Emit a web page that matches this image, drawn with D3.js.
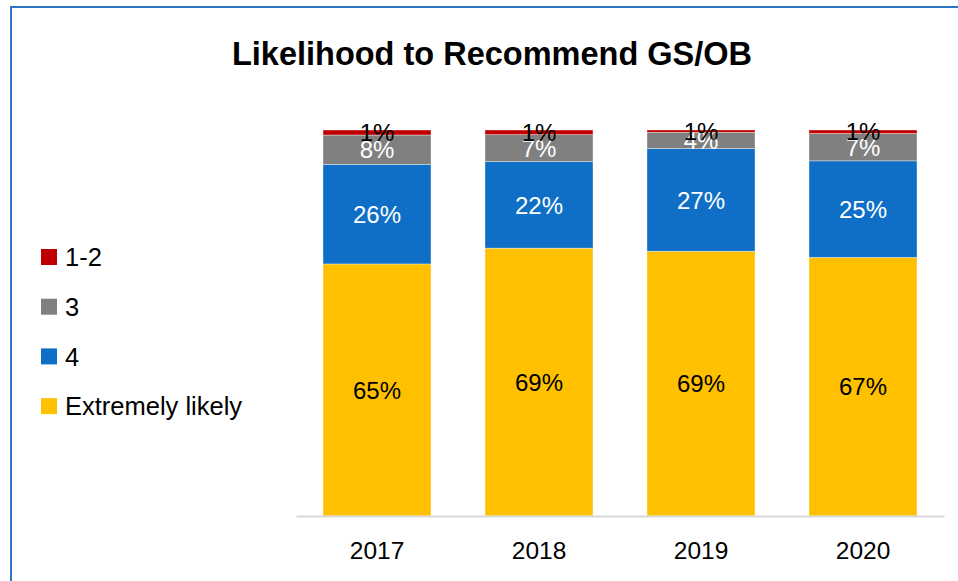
<!DOCTYPE html>
<html>
<head>
<meta charset="utf-8">
<script src="https://cdn.jsdelivr.net/npm/d3@7"></script>
<style>
  body { margin: 0; background: #fff; }
  text { font-family: "Liberation Sans", Arial, sans-serif; }
</style>
</head>
<body>
<div id="chart"></div>
<script>
//chart data
let years = ["2017", "2018", "2019", "2020"];
let seriesNames = ["Extremely likely", "4", "3", "1-2"];
let extremelyLikely = [65.3, 69.4, 68.6, 67.0];
let four = [25.8, 22.4, 26.6, 25.0];
let three = [7.6, 7.0, 4.2, 7.1];
let oneTwo = [1.3, 1.2, 0.6, 0.9];
let legendOrder = ["1-2", "3", "4", "Extremely likely"];

let width = 958,
    height = 581;
let colors = {"Extremely likely": "#FFC000", "4": "#0F6FC6", "3": "#808080", "1-2": "#C00000"};
let labelColors = {"Extremely likely": "#000", "4": "#fff", "3": "#fff", "1-2": "#000"};

//build table for stacking
let table = years.map((y, i) => ({
    year: y,
    "Extremely likely": extremelyLikely[i],
    "4": four[i],
    "3": three[i],
    "1-2": oneTwo[i]
}));
let stacked = d3.stack().keys(seriesNames)(table);

let svg = d3.select("#chart")
    .append("svg")
    .attr("width", width)
    .attr("height", height);

//blue frame around chart
svg.append("rect")
    .attr("x", 11)
    .attr("y", 7)
    .attr("width", 980)
    .attr("height", 600)
    .attr("fill", "none")
    .attr("stroke", "#2E75C6")
    .attr("stroke-width", 2);

//title
svg.append("text")
    .attr("x", 492)
    .attr("y", 65)
    .attr("text-anchor", "middle")
    .style("font-weight", "bold")
    .style("font-size", "32.5px")
    .text("Likelihood to Recommend GS/OB");

let x = d3.scaleBand()
    .domain(years)
    .range([296, 944])
    .paddingInner(1 / 3)
    .paddingOuter(1 / 6);
let y = d3.scaleLinear()
    .domain([0, 100])
    .range([516, 130]);

//bars
let layers = svg.selectAll("g.layer")
    .data(stacked)
    .enter()
    .append("g")
    .attr("class", "layer")
    .attr("fill", d => colors[d.key]);

layers.selectAll("rect")
    .data(d => d)
    .enter()
    .append("rect")
    .attr("x", d => x(d.data.year))
    .attr("y", d => y(d[1]))
    .attr("width", x.bandwidth())
    .attr("height", d => y(d[0]) - y(d[1]))
    .attr("stroke", "#fff")
    .attr("stroke-width", 0.6)
    .attr("stroke-opacity", 0.6);

//data labels (the tiny top ones overlap like in the original)
layers.selectAll("text")
    .data(d => d.map(p => ({p: p, key: d.key})))
    .enter()
    .append("text")
    .attr("x", d => x(d.p.data.year) + x.bandwidth() / 2)
    .attr("y", d => (y(d.p[0]) + y(d.p[1])) / 2)
    .attr("dy", "0.36em")
    .attr("text-anchor", "middle")
    .attr("fill", d => labelColors[d.key])
    .style("font-size", "24px")
    .text(d => Math.round(d.p.data[d.key]) + "%");

//x axis line and labels
let xAxis = svg.append("g")
    .attr("transform", "translate(0,516)")
    .call(d3.axisBottom(x).tickSize(0).tickPadding(26));
xAxis.select(".domain")
    .attr("stroke", "#D9D9D9")
    .attr("stroke-width", 2);
xAxis.selectAll("text")
    .style("font-size", "24.5px")
    .style("font-family", "Liberation Sans, Arial, sans-serif")
    .attr("fill", "#000");

//legend
let legend = svg.selectAll("g.legend")
    .data(legendOrder)
    .enter()
    .append("g")
    .attr("class", "legend")
    .attr("transform", (d, i) => `translate(41,${257 + i * 49.7})`);
legend.append("rect")
    .attr("x", 0)
    .attr("y", -8)
    .attr("width", 16)
    .attr("height", 16)
    .attr("fill", d => colors[d]);
legend.append("text")
    .attr("x", 24)
    .attr("y", 0)
    .attr("dy", "0.36em")
    .style("font-size", "25.5px")
    .text(d => d);
</script>
</body>
</html>
